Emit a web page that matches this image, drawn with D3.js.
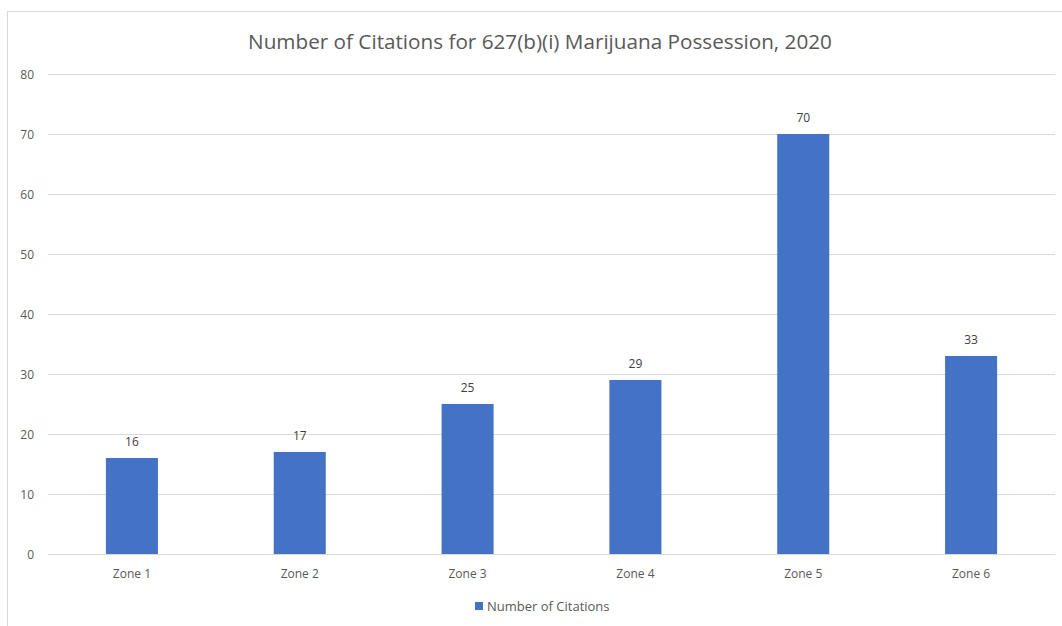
<!DOCTYPE html>
<html>
<head>
<meta charset="utf-8">
<script src="https://cdn.jsdelivr.net/npm/d3@7"></script>
<style>
  body { margin: 0; background: #fff; }
  text { font-family: "Open Sans", "Noto Sans", sans-serif; }
</style>
</head>
<body>
<svg id="chart" width="1062" height="626"></svg>
<script>
  // chart data
  var zones = ["Zone 1", "Zone 2", "Zone 3", "Zone 4", "Zone 5", "Zone 6"];
  var citations = [16, 17, 25, 29, 70, 33];
  var yTicks = [0, 10, 20, 30, 40, 50, 60, 70, 80];
  var title = "Number of Citations for 627(b)(i) Marijuana Possession, 2020";
  var seriesName = "Number of Citations";

  (function() {
    var data = zones.map((z, i) => ({ name: z, value: citations[i] }));

    var plotLeft = 48, plotRight = 1055, plotTop = 74, plotBottom = 554;
    var barColor = "#4472c4";

    var svg = d3.select("#chart");

    // outer frame
    svg.append("rect")
      .attr("x", 7.5).attr("y", 11.5)
      .attr("width", 1070).attr("height", 630)
      .attr("fill", "none")
      .attr("stroke", "#d9d9d9");

    var x = d3.scaleBand()
      .domain(zones)
      .range([plotLeft, plotRight])
      .paddingInner(0.69)
      .paddingOuter(0.345);

    var y = d3.scaleLinear()
      .domain([0, 80])
      .range([plotBottom, plotTop]);

    // gridlines
    svg.append("g")
      .selectAll("line")
      .data(yTicks)
      .enter()
      .append("line")
      .attr("x1", plotLeft).attr("x2", plotRight)
      .attr("y1", d => y(d) + 0.5).attr("y2", d => y(d) + 0.5)
      .attr("stroke", "#d9d9d9")
      .attr("stroke-width", 1);

    // y axis labels
    var yAxis = svg.append("g")
      .attr("transform", `translate(${plotLeft - 14},0.5)`)
      .call(d3.axisLeft(y).tickValues(yTicks).tickSize(0).tickPadding(0));
    yAxis.select(".domain").remove();
    yAxis.selectAll("text")
      .attr("fill", "#595959")
      .style("font-size", "12px");

    // bars
    svg.append("g")
      .selectAll("rect")
      .data(data)
      .enter()
      .append("rect")
      .attr("x", d => x(d.name))
      .attr("y", d => y(d.value))
      .attr("width", x.bandwidth())
      .attr("height", d => plotBottom - y(d.value))
      .attr("fill", barColor);

    // value labels
    svg.append("g")
      .selectAll("text")
      .data(data)
      .enter()
      .append("text")
      .attr("x", d => x(d.name) + x.bandwidth() / 2)
      .attr("y", d => y(d.value) - 12)
      .attr("text-anchor", "middle")
      .attr("fill", "#404040")
      .style("font-size", "12px")
      .text(d => d.value);

    // x axis labels
    var xAxis = svg.append("g")
      .attr("transform", `translate(0,${plotBottom + 15})`)
      .call(d3.axisBottom(x).tickSize(0).tickPadding(0));
    xAxis.select(".domain").remove();
    xAxis.selectAll("text")
      .attr("fill", "#595959")
      .attr("dy", "0.71em")
      .style("font-size", "12px");

    // title
    svg.append("text")
      .attr("x", 540)
      .attr("y", 49)
      .attr("text-anchor", "middle")
      .attr("fill", "#595959")
      .style("font-size", "20.7px")
      .text(title);

    // legend
    var legend = svg.append("g").attr("transform", "translate(475,602)");
    legend.append("rect")
      .attr("width", 8).attr("height", 8)
      .attr("fill", barColor);
    legend.append("text")
      .attr("x", 12).attr("y", 9)
      .attr("fill", "#595959")
      .style("font-size", "13px")
      .text(seriesName);
  })();
</script>
</body>
</html>
